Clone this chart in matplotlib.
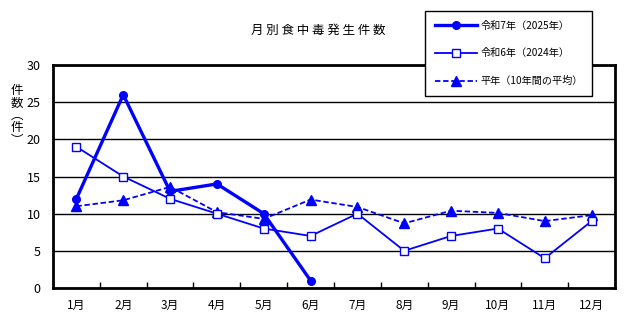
import matplotlib
matplotlib.use("Agg")
import matplotlib.pyplot as plt

plt.rcParams['font.family'] = ['Noto Sans CJK JP', 'DejaVu Sans']

months = ["1月", "2月", "3月", "4月", "5月", "6月", "7月", "8月", "9月", "10月", "11月", "12月"]
r7_2025 = [12, 26, 13, 14, 10, 1]
r6_2024 = [19, 15, 12, 10, 8, 7, 10, 5, 7, 8, 4, 9]
avg10 = [11.0, 11.8, 13.6, 10.2, 9.3, 11.9, 10.9, 8.7, 10.4, 10.1, 9.0, 9.8]
labels = ["令和7年（2025年）", "令和6年（2024年）", "平年（10年間の平均）"]
title = "月 別 食 中 毒 発 生 件 数"
ylabel = "件\n数\n︵\n件\n︶"

W, H = 633, 332
fig = plt.figure(figsize=(W / 100, H / 100), dpi=100)
ax = fig.add_axes([53 / W, 1 - 288 / H, (615 - 53) / W, (288 - 65) / H])

blue = "#0000FF"
x = list(range(len(months)))
l1, = ax.plot(x[:len(r7_2025)], r7_2025, color=blue, lw=2.4, marker='o', ms=5.5,
              mfc=blue, mec=blue, zorder=5)
l2, = ax.plot(x, r6_2024, color=blue, lw=1.3, marker='s', ms=5.5,
              mfc='white', mec=blue, mew=1.0, zorder=4)
l3, = ax.plot(x, avg10, color=blue, lw=1.3, ls=(0, (3, 1.5)), marker='^', ms=6.5,
              mfc=blue, mec=blue, zorder=3)

ax.set_xlim(-0.5, len(months) - 0.5)
ax.set_ylim(0, 30)
ax.set_yticks(range(0, 31, 5))
ax.set_yticklabels([str(v) for v in range(0, 31, 5)], fontsize=9)
ax.yaxis.grid(True, color='black', lw=1.0)
ax.set_axisbelow(True)

ax.set_xticks([i - 0.5 for i in range(1, len(months))], minor=False)
ax.set_xticklabels([])
ax.set_xticks(x, minor=True)
ax.set_xticklabels(months, minor=True, fontsize=8.5)
ax.tick_params(axis='x', which='major', direction='in', length=4, width=1, color='black')
ax.tick_params(axis='x', which='minor', length=0, pad=8)
ax.tick_params(axis='y', length=0, pad=9)

for s in ax.spines.values():
    s.set_linewidth(2.0)
    s.set_color('black')

fig.text(318 / W, 1 - 30 / H, title, ha='center', va='center', fontsize=9)

fig.text(17 / W, 1 - 84 / H, ylabel, ha='center', va='top', fontsize=9,
         linespacing=0.95)

leg = fig.legend([l1, l2, l3], labels, loc='upper left',
                 bbox_to_anchor=(425 / W, 1 - 11 / H), borderaxespad=0,
                 fontsize=7.3, handlelength=4.2, labelspacing=1.75,
                 borderpad=0.95, handletextpad=0.3, fancybox=False,
                 framealpha=1, edgecolor='black')
leg.get_frame().set_linewidth(1.0)

fig.savefig("out.png", dpi=100)
